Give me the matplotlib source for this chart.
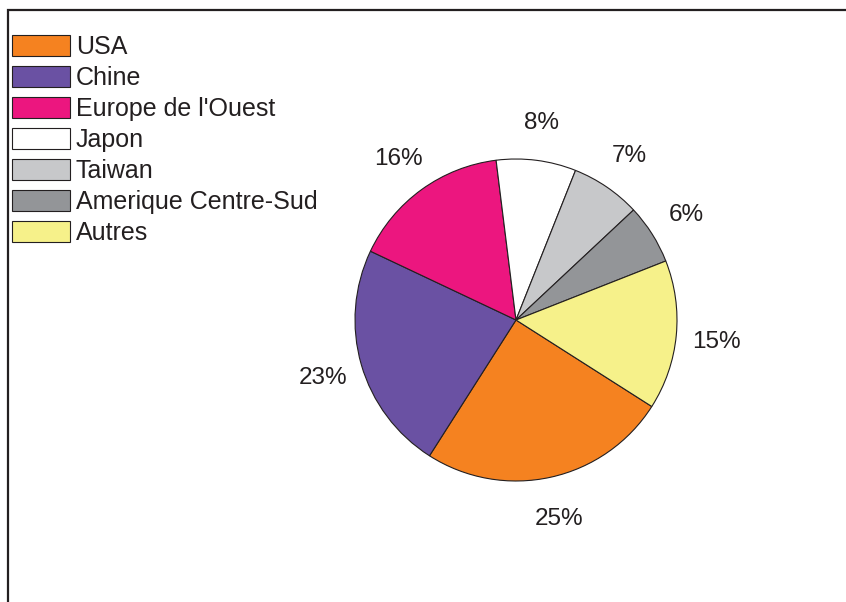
import matplotlib.pyplot as plt
from matplotlib.patches import Patch, Rectangle

plt.rcParams['font.family'] = ['Liberation Sans', 'DejaVu Sans']

# data
labels = ["USA", "Chine", "Europe de l'Ouest", "Japon", "Taiwan",
          "Amerique Centre-Sud", "Autres"]
shares = [25, 23, 16, 8, 7, 6, 15]
colors = ["#F58220", "#6A51A3", "#EC167F", "#FFFFFF", "#C7C8CA",
          "#939598", "#F6F18A"]

W, H = 846, 602
fig = plt.figure(figsize=(W / 100, H / 100), dpi=100)

# open frame (left and top edges visible)
fig.patches.append(Rectangle((8 / W, -0.1), 1.2, (H - 10) / H + 0.1,
                             transform=fig.transFigure, fill=False,
                             edgecolor="#231F20", linewidth=1.6))

cx, cy, r = 516, 320, 161
ax = fig.add_axes([(cx - r) / W, (H - cy - r) / H, 2 * r / W, 2 * r / H])
wedges, texts = ax.pie(shares, colors=colors, startangle=-32.5,
                       counterclock=False, labels=[f"{s}%" for s in shares],
                       labeldistance=1.25,
                       wedgeprops=dict(edgecolor="#231F20", linewidth=0.8),
                       textprops=dict(fontsize=17.5, color="#231F20"))
for t in texts:
    t.set_ha("center")
    t.set_va("center_baseline")
ax.set_xlim(-1, 1)
ax.set_ylim(-1, 1)
ax.axis("off")

handles = [Patch(facecolor=c, edgecolor="#231F20", linewidth=0.8) for c in colors]
fig.legend(handles, labels, loc="upper left",
           bbox_to_anchor=(12 / W, 1 - 35 / H), frameon=False,
           fontsize=18, handlelength=2.32, handleheight=0.88,
           handletextpad=0.24, labelspacing=0.28, borderpad=0,
           borderaxespad=0, labelcolor="#231F20")

fig.savefig("out.png", dpi=100)
